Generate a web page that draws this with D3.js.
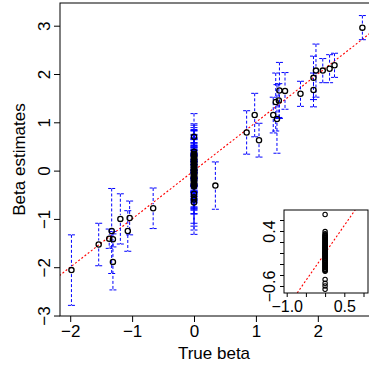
<!DOCTYPE html>
<html>
<head>
<meta charset="utf-8">
<script src="https://cdn.jsdelivr.net/npm/d3@7.9.0/dist/d3.min.js"></script>
<style>
  body { margin: 0; background: #fff; }
  svg { display: block; font-family: "Liberation Sans", Arial, sans-serif; }
</style>
</head>
<body>
<div id="chart"></div>
<script>
// non-null coefficients: true value, estimate, half width of the interval
const trueBeta = [-1.98, -1.54, -1.37, -1.33, -1.31, -1.31, -1.19, -1.07, -1.04, -0.66,
  0.345, 0.85, 0.98, 1.05, 1.28, 1.32, 1.34, 1.37, 1.38, 1.47, 1.72, 1.93, 1.93, 1.97,
  2.08, 2.19, 2.27, 2.72];
const estBeta = [-2.06, -1.53, -1.41, -1.25, -1.42, -1.89, -1.00, -1.25, -0.98, -0.78,
  -0.31, 0.79, 1.15, 0.63, 1.15, 1.42, 1.07, 1.45, 1.66, 1.65, 1.59, 1.67, 1.92, 2.07,
  2.07, 2.11, 2.18, 2.96];
const halfCI = [0.73, 0.44, 0.20, 0.88, 0.16, 0.58, 0.52, 0.42, 0.35, 0.42,
  0.49, 0.45, 0.45, 0.35, 0.37, 0.60, 0.71, 0.35, 0.58, 0.38, 0.26, 0.35, 0.45, 0.55,
  0.25, 0.29, 0.25, 0.25];

// null coefficients (true beta = 0)
const zeroEst = [0.70, 0.39, 0.35, 0.33, 0.31, 0.30, 0.28, 0.27, 0.25, 0.24, 0.22, 0.21,
  0.19, 0.18, 0.16, 0.15, 0.14, 0.12, 0.11, 0.10, 0.08, 0.07, 0.06, 0.05, 0.03, 0.02,
  0.01, 0.00, -0.01, -0.02, -0.04, -0.05, -0.06, -0.07, -0.09, -0.10, -0.11, -0.13,
  -0.14, -0.15, -0.17, -0.18, -0.20, -0.21, -0.23, -0.24, -0.26, -0.27, -0.29, -0.30,
  -0.32, -0.33, -0.48, -0.55, -0.60, -0.66];
const zeroHalf = [0.48, 0.55, 0.62, 0.15, 0.52, 0.28, 0.61, 0.09, 0.41, 0.58, 0.22, 0.64,
  0.12, 0.49, 0.33, 0.60, 0.18, 0.57, 0.26, 0.63, 0.11, 0.45, 0.36, 0.59, 0.20, 0.53,
  0.30, 0.65, 0.14, 0.47, 0.38, 0.62, 0.24, 0.56, 0.10, 0.51, 0.31, 0.64, 0.17, 0.44,
  0.27, 0.60, 0.13, 0.54, 0.35, 0.58, 0.21, 0.62, 0.16, 0.50, 0.29, 0.57, 0.61, 0.68,
  0.55, 0.66];

const xTicks = [-2, -1, 0, 1, 2];
const yTicks = [-3, -2, -1, 0, 1, 2, 3];
const insetXTicks = [-1, -0.5, 0, 0.5, 1];
const insetXLabels = [-1, 0.5];
const insetYTicks = [-0.6, -0.4, -0.2, 0, 0.2, 0.4, 0.6];
const insetYLabels = [-0.6, 0.4];

const width = 369, height = 370;
const plot = { left: 60, right: 370, top: 3, bottom: 316 };
const inset = { left: 284, right: 368, top: 210, bottom: 293 };

const points = trueBeta.map((t, i) => ({ t, e: estBeta[i], h: halfCI[i] }))
  .concat(zeroEst.map((e, i) => ({ t: 0, e, h: zeroHalf[i] })));

const svg = d3.select('#chart').append('svg')
  .attr('width', width).attr('height', height);

const x = d3.scaleLinear().domain([-2.165, 2.843]).range([plot.left, plot.right]);
const y = d3.scaleLinear().domain([-3.01, 3.47]).range([plot.bottom, plot.top]);

svg.append('clipPath').attr('id', 'clipMain')
  .append('rect')
  .attr('x', plot.left).attr('y', plot.top)
  .attr('width', plot.right - plot.left).attr('height', plot.bottom - plot.top);

const main = svg.append('g').attr('clip-path', 'url(#clipMain)');

// y = x reference line
main.append('line')
  .attr('x1', x(-3.5)).attr('y1', y(-3.5))
  .attr('x2', x(3.5)).attr('y2', y(3.5))
  .attr('stroke', '#ff0000').attr('stroke-width', 1.1)
  .attr('stroke-dasharray', '2,2');

// error bars, with a gap around each point
const gap = 4;
const bars = main.append('g')
  .attr('stroke', '#0000ff').attr('stroke-width', 1)
  .attr('stroke-dasharray', '3,2').attr('fill', 'none');

points.forEach(d => {
  const cx = x(d.t), cy = y(d.e);
  const top = y(d.e + d.h), bot = y(d.e - d.h);
  if (cy - gap > top) {
    bars.append('line').attr('x1', cx).attr('x2', cx).attr('y1', top).attr('y2', cy - gap);
  }
  if (cy + gap < bot) {
    bars.append('line').attr('x1', cx).attr('x2', cx).attr('y1', cy + gap).attr('y2', bot);
  }
  bars.append('line').attr('x1', cx - 3.5).attr('x2', cx + 3.5).attr('y1', top).attr('y2', top)
    .attr('stroke-dasharray', '3,1');
  bars.append('line').attr('x1', cx - 3.5).attr('x2', cx + 3.5).attr('y1', bot).attr('y2', bot)
    .attr('stroke-dasharray', '3,1');
});

main.append('g').selectAll('circle')
  .data(points)
  .join('circle')
  .attr('cx', d => x(d.t))
  .attr('cy', d => y(d.e))
  .attr('r', 2.6)
  .attr('fill', 'none')
  .attr('stroke', '#000')
  .attr('stroke-width', 1.3);

// axes
const xAxis = svg.append('g')
  .attr('transform', `translate(0,${plot.bottom})`)
  .call(d3.axisBottom(x).tickValues(xTicks).tickFormat(d3.format('d')).tickSize(6).tickPadding(3));
xAxis.select('.domain').remove();
xAxis.selectAll('text').attr('font-size', 17).attr('fill', '#000')
  .attr('font-family', '"Liberation Sans", Arial, sans-serif');

const yAxis = svg.append('g')
  .attr('transform', `translate(${plot.left},0)`)
  .call(d3.axisLeft(y).tickValues(yTicks).tickFormat(d3.format('d')).tickSize(6));
yAxis.select('.domain').remove();
yAxis.selectAll('text')
  .attr('x', null).attr('dy', null)
  .attr('transform', 'translate(-10,0) rotate(-90)')
  .attr('text-anchor', 'middle')
  .attr('font-size', 17).attr('fill', '#000')
  .attr('font-family', '"Liberation Sans", Arial, sans-serif');

svg.append('rect')
  .attr('x', plot.left).attr('y', plot.top)
  .attr('width', plot.right - plot.left).attr('height', plot.bottom - plot.top)
  .attr('fill', 'none').attr('stroke', '#000').attr('stroke-width', 1);

svg.append('text')
  .attr('x', (plot.left + plot.right) / 2 - 1).attr('y', 358.5)
  .attr('text-anchor', 'middle').attr('font-size', 17)
  .text('True beta');

svg.append('text')
  .attr('transform', `translate(25,${(plot.top + plot.bottom) / 2}) rotate(-90)`)
  .attr('text-anchor', 'middle').attr('font-size', 17)
  .text('Beta estimates');

// inset: zoom on the null coefficients
const ix = d3.scaleLinear().domain([-1.07, 1.117]).range([inset.left, inset.right]);
const iy = d3.scaleLinear().domain([-0.727, 0.782]).range([inset.bottom, inset.top]);

svg.append('rect')
  .attr('x', inset.left).attr('y', inset.top)
  .attr('width', inset.right - inset.left).attr('height', inset.bottom - inset.top)
  .attr('fill', '#fff');

svg.append('clipPath').attr('id', 'clipInset')
  .append('rect')
  .attr('x', inset.left).attr('y', inset.top)
  .attr('width', inset.right - inset.left).attr('height', inset.bottom - inset.top);

const ig = svg.append('g').attr('clip-path', 'url(#clipInset)');

ig.append('line')
  .attr('x1', ix(-1.5)).attr('y1', iy(-1.5))
  .attr('x2', ix(1.5)).attr('y2', iy(1.5))
  .attr('stroke', '#ff0000').attr('stroke-width', 1.1)
  .attr('stroke-dasharray', '2,2');

ig.append('g').selectAll('circle')
  .data(zeroEst)
  .join('circle')
  .attr('cx', ix(0))
  .attr('cy', d => iy(d))
  .attr('r', 2.2)
  .attr('fill', 'none')
  .attr('stroke', '#000')
  .attr('stroke-width', 1.1);

const ixAxis = svg.append('g')
  .attr('transform', `translate(0,${inset.bottom})`)
  .call(d3.axisBottom(ix).tickValues(insetXTicks)
    .tickFormat(d => insetXLabels.includes(d) ? d3.format('.1f')(d) : '')
    .tickSize(4).tickPadding(3.5));
ixAxis.select('.domain').remove();
ixAxis.selectAll('text').attr('font-size', 16).attr('fill', '#000')
  .attr('font-family', '"Liberation Sans", Arial, sans-serif');

const iyAxis = svg.append('g')
  .attr('transform', `translate(${inset.left},0)`)
  .call(d3.axisLeft(iy).tickValues(insetYTicks)
    .tickFormat(d => insetYLabels.includes(d) ? d3.format('.1f')(d) : '')
    .tickSize(4));
iyAxis.select('.domain').remove();
iyAxis.selectAll('text')
  .attr('x', null).attr('dy', null)
  .attr('transform', 'translate(-9,0) rotate(-90)')
  .attr('text-anchor', 'middle')
  .attr('font-size', 16).attr('fill', '#000')
  .attr('font-family', '"Liberation Sans", Arial, sans-serif');

svg.append('rect')
  .attr('x', inset.left).attr('y', inset.top)
  .attr('width', inset.right - inset.left).attr('height', inset.bottom - inset.top)
  .attr('fill', 'none').attr('stroke', '#000').attr('stroke-width', 1);
</script>
</body>
</html>
